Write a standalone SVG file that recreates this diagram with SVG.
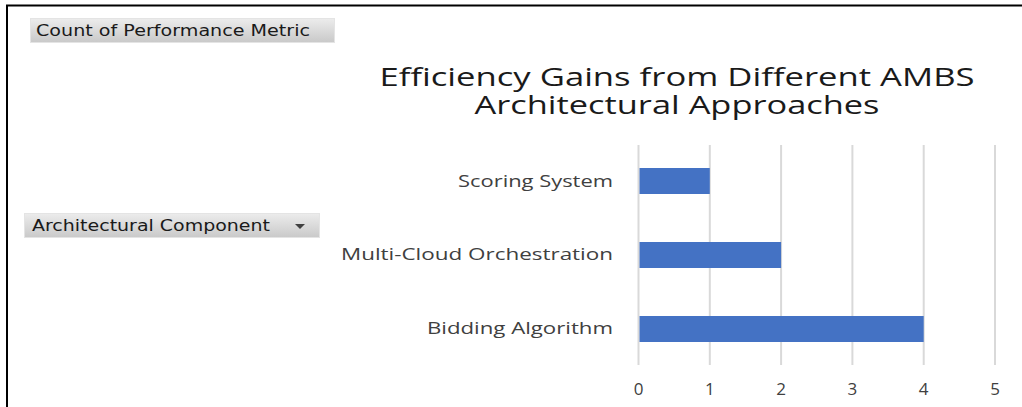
<svg xmlns="http://www.w3.org/2000/svg" width="1022" height="407" viewBox="0 0 1022 407">
  <defs>
    <linearGradient id="btnFill" x1="0" y1="0" x2="0" y2="1">
      <stop offset="0" stop-color="#ececec"/>
      <stop offset="1" stop-color="#c9c9c9"/>
    </linearGradient>
    <style>
      .frame { fill: none; stroke: #000; stroke-width: 2; }
      .btn { fill: url(#btnFill); stroke: #e4e4e4; stroke-width: 1; }
      .btnText { font-family: "DejaVu Sans", Verdana, sans-serif; font-size: 15px; fill: #1a1a1a; }
      .title { font-family: "Open Sans", "Liberation Sans", sans-serif; font-size: 25px; fill: #1a1a1a; text-anchor: middle; }
      .cat { font-family: "Open Sans", "Liberation Sans", sans-serif; font-size: 16px; fill: #404040; text-anchor: end; }
      .tick { font-family: "Open Sans", "Liberation Sans", sans-serif; font-size: 17px; fill: #404040; text-anchor: middle; }
      .grid { stroke: #d9d9d9; stroke-width: 2; }
      .bar { fill: #4472c4; }
    </style>
  </defs>

  <rect width="1022" height="407" fill="#fff"/>

  <!-- outer frame: top and left edges -->
  <path class="frame" d="M7 407 V5.5 H1022"/>

  <!-- pivot field buttons -->
  <g id="value-field">
    <rect class="btn" x="30.5" y="18.5" width="304" height="24"/>
    <text class="btnText" x="36" y="36" textLength="274" lengthAdjust="spacingAndGlyphs">Count of Performance Metric</text>
  </g>
  <g id="axis-field">
    <rect class="btn" x="24.5" y="213.5" width="295" height="24"/>
    <text class="btnText" x="32" y="231" textLength="238" lengthAdjust="spacingAndGlyphs">Architectural Component</text>
    <path d="M295 224 H305 L300 229 Z" fill="#404040"/>
  </g>

  <!-- chart title -->
  <g id="title">
    <text class="title" x="677" y="86" textLength="595" lengthAdjust="spacingAndGlyphs">Efficiency Gains from Different AMBS</text>
    <text class="title" x="677" y="114" textLength="405" lengthAdjust="spacingAndGlyphs">Architectural Approaches</text>
  </g>

  <!-- vertical gridlines -->
  <g id="gridlines">
    <line class="grid" x1="638.5" y1="145" x2="638.5" y2="365"/>
    <line class="grid" x1="709.8" y1="145" x2="709.8" y2="365"/>
    <line class="grid" x1="781.1" y1="145" x2="781.1" y2="365"/>
    <line class="grid" x1="852.4" y1="145" x2="852.4" y2="365"/>
    <line class="grid" x1="923.7" y1="145" x2="923.7" y2="365"/>
    <line class="grid" x1="995" y1="145" x2="995" y2="365"/>
  </g>

  <!-- bars -->
  <g id="bar-scoring-system">
    <rect class="bar" x="639.5" y="168" width="70.3" height="26"/>
    <text class="cat" x="613" y="187" textLength="155" lengthAdjust="spacingAndGlyphs">Scoring System</text>
  </g>
  <g id="bar-multi-cloud">
    <rect class="bar" x="639.5" y="242" width="141.6" height="26"/>
    <text class="cat" x="613" y="260" textLength="272" lengthAdjust="spacingAndGlyphs">Multi-Cloud Orchestration</text>
  </g>
  <g id="bar-bidding">
    <rect class="bar" x="639.5" y="316" width="284.2" height="26"/>
    <text class="cat" x="613" y="334" textLength="186" lengthAdjust="spacingAndGlyphs">Bidding Algorithm</text>
  </g>

  <!-- value axis labels -->
  <g id="value-axis">
    <text class="tick" x="638.5" y="395">0</text>
    <text class="tick" x="709.8" y="395">1</text>
    <text class="tick" x="781.1" y="395">2</text>
    <text class="tick" x="852.4" y="395">3</text>
    <text class="tick" x="923.7" y="395">4</text>
    <text class="tick" x="995" y="395">5</text>
  </g>
</svg>
